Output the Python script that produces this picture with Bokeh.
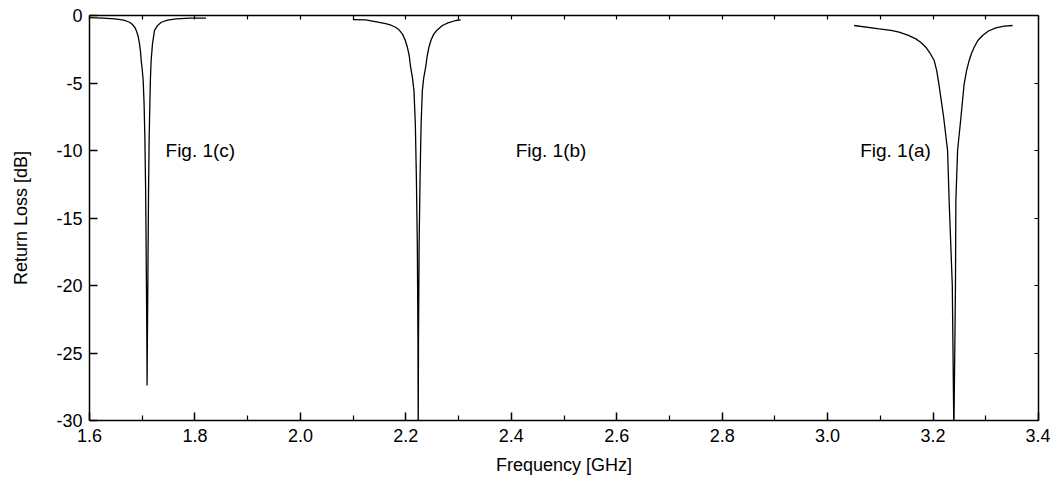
from bokeh.plotting import figure
from bokeh.models import LinearAxis, FixedTicker, Range1d
from bokeh.core.properties import value
from bokeh.embed import file_html
from bokeh.resources import INLINE

# ---- data ----
freq_c = [1.600, 1.625, 1.648, 1.665, 1.676, 1.681, 1.6855, 1.6886, 1.6920, 1.6949,
          1.6968, 1.698, 1.7000, 1.7018, 1.7035, 1.705, 1.7065, 1.7078, 1.7088, 1.7092,
          1.7098, 1.7108, 1.712, 1.7132, 1.7145, 1.7155, 1.7162, 1.717, 1.7195, 1.7233,
          1.729, 1.7361, 1.748, 1.7645, 1.790, 1.821]
rl_c = [-0.15, -0.2, -0.25, -0.35, -0.5, -0.65, -0.85, -1.1, -1.5, -2.1,
        -2.7, -3.3, -4.0, -4.8, -6.5, -9.0, -13.0, -19.0, -24.0, -27.4,
        -24.0, -19.0, -13.0, -9.0, -6.5, -4.8, -4.0, -3.3, -2.1, -1.1,
        -0.75, -0.5, -0.35, -0.25, -0.2, -0.2]

freq_b = [2.0996, 2.1237, 2.1420, 2.1617, 2.1720, 2.1806, 2.1875, 2.1934, 2.1985, 2.2029,
          2.2065, 2.2091, 2.2125, 2.2154, 2.2180, 2.2200, 2.2218, 2.2230, 2.2235, 2.2240,
          2.2252, 2.2270, 2.2290, 2.2313, 2.2340, 2.2376, 2.2405, 2.2438, 2.2480, 2.2533,
          2.2600, 2.2693, 2.2800, 2.2945, 2.304]
rl_b = [-0.30, -0.32, -0.45, -0.61, -0.72, -0.87, -1.08, -1.36, -1.8, -2.35,
        -3.0, -3.83, -4.6, -5.56, -8.0, -12.0, -17.0, -24.0, -31.0, -24.0,
        -17.0, -12.0, -8.0, -5.56, -4.6, -3.83, -3.0, -2.35, -1.8, -1.36,
        -1.05, -0.74, -0.55, -0.37, -0.32]

freq_a = [3.0503, 3.0977, 3.1200, 3.1357, 3.1520, 3.1674, 3.1770, 3.1863, 3.1945, 3.2021,
          3.2070, 3.2110, 3.2200, 3.2275, 3.2305, 3.2365, 3.2395, 3.2425, 3.2433, 3.2465,
          3.2530, 3.2590, 3.2635, 3.2685, 3.2730, 3.2780, 3.2850, 3.2939, 3.3050, 3.3192,
          3.3350, 3.3509]
rl_a = [-0.74, -0.99, -1.1, -1.23, -1.45, -1.73, -2.0, -2.35, -2.8, -3.33,
        -4.1, -5.06, -7.5, -10.0, -13.7, -20.0, -31.0, -20.0, -13.7, -10.0,
        -7.5, -5.06, -4.1, -3.33, -2.8, -2.35, -1.85, -1.48, -1.15, -0.91,
        -0.78, -0.74]

label_x = [1.7442, 2.4083, 3.0617]
label_y = [-10, -10, -10]
label_text = ["Fig. 1(c)", "Fig. 1(b)", "Fig. 1(a)"]

x_ticks = [1.6, 1.8, 2.0, 2.2, 2.4, 2.6, 2.8, 3.0, 3.2, 3.4]
x_tick_labels = ["1.6", "1.8", "2.0", "2.2", "2.4", "2.6", "2.8", "3.0", "3.2", "3.4"]
x_minor = [1.7, 1.9, 2.1, 2.3, 2.5, 2.7, 2.9, 3.1, 3.3]
y_ticks = [-30, -25, -20, -15, -10, -5, 0]
y_tick_labels = ["-30", "-25", "-20", "-15", "-10", "-5", "0"]

FONT = "Liberation Sans"

p = figure(width=1050, height=477, output_backend="svg", toolbar_location=None,
           x_range=Range1d(1.6, 3.4), y_range=Range1d(-30, 0),
           min_border_left=89, min_border_right=12, min_border_top=15, min_border_bottom=10,
           x_axis_label="Frequency [GHz]", y_axis_label="Return Loss [dB]")
p.grid.visible = False
p.outline_line_color = None
p.background_fill_color = "white"
p.border_fill_color = "white"

for ax in (p.xaxis[0], p.yaxis[0]):
    ax.axis_line_width = 1.5
    ax.axis_line_color = "black"
    ax.major_tick_line_color = "black"
    ax.major_tick_line_width = 1.5
    ax.minor_tick_line_color = "black"
    ax.minor_tick_line_width = 1.2
    ax.major_tick_in = 8
    ax.major_tick_out = 0
    ax.minor_tick_in = 5
    ax.minor_tick_out = 0
    ax.major_label_text_font = FONT
    ax.major_label_text_font_size = "18px"
    ax.major_label_text_color = "black"
    ax.axis_label_text_font = FONT
    ax.axis_label_text_font_size = "18px"
    ax.axis_label_text_font_style = "normal"
    ax.axis_label_text_color = "black"

p.xaxis[0].ticker = FixedTicker(ticks=x_ticks, minor_ticks=x_minor)
p.xaxis[0].major_label_overrides = {t: s for t, s in zip(x_ticks, x_tick_labels)}
p.xaxis[0].major_label_standoff = 8
p.xaxis[0].axis_label_standoff = 10
p.yaxis[0].ticker = FixedTicker(ticks=y_ticks, minor_ticks=[])
p.yaxis[0].major_label_overrides = {t: s for t, s in zip(y_ticks, y_tick_labels)}
p.yaxis[0].major_label_standoff = 7
p.yaxis[0].axis_label_standoff = 22

top = LinearAxis(ticker=FixedTicker(ticks=x_ticks, minor_ticks=x_minor))
right = LinearAxis(ticker=FixedTicker(ticks=y_ticks, minor_ticks=[]))
for ax in (top, right):
    ax.axis_line_width = 1.5
    ax.axis_line_color = "black"
    ax.major_tick_in = 4
    ax.major_tick_out = 0
    ax.minor_tick_in = 4
    ax.minor_tick_out = 0
    ax.major_tick_line_width = 1.2
    ax.minor_tick_line_width = 1.2
    ax.major_label_text_font_size = "0px"
    ax.major_label_standoff = 0
p.add_layout(top, "above")
p.add_layout(right, "right")

for fx, fy in ((freq_c, rl_c), (freq_b, rl_b), (freq_a, rl_a)):
    p.line(fx, fy, line_color="black", line_width=1.3)

p.text(x=label_x, y=label_y, text=label_text, text_font=value(FONT),
       text_font_size="19px", text_baseline="middle", text_align="left", text_color="black")

open("out.html", "w").write(file_html(p, INLINE))
